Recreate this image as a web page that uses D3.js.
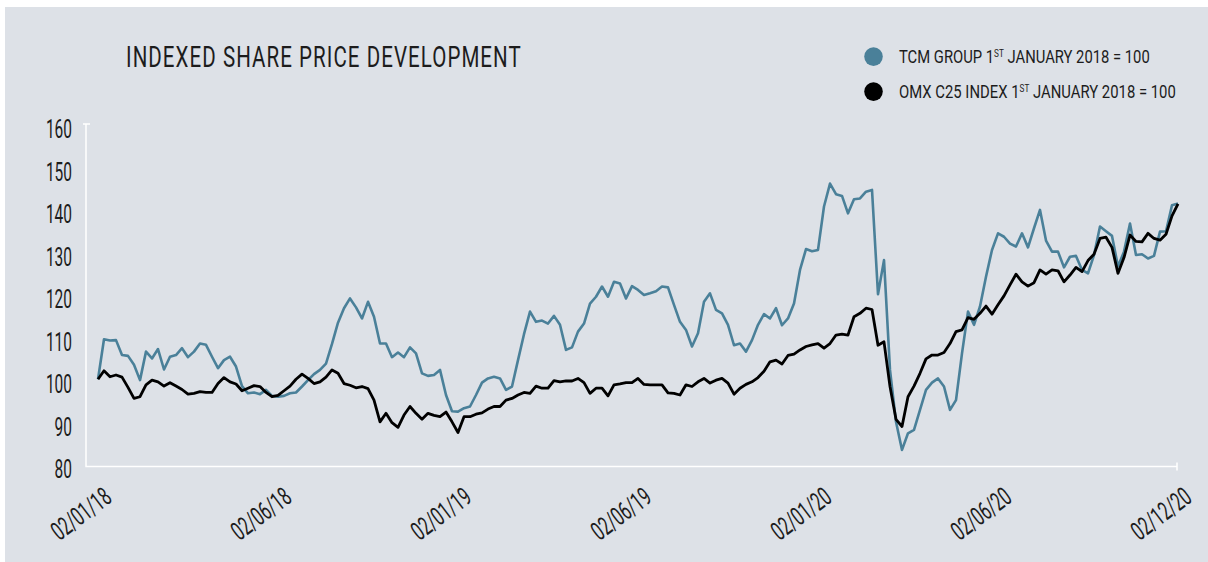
<!DOCTYPE html>
<html>
<head>
<meta charset="utf-8">
<script src="https://cdn.jsdelivr.net/npm/d3@7"></script>
<style>
body { margin: 0; background: #ffffff; }
svg { display: block; }
</style>
</head>
<body>
<div id="chart"><svg width="1208" height="562"></svg></div>
<script>

// chart data (roughly weekly closes)
var chartTitle = "INDEXED SHARE PRICE DEVELOPMENT";
var legendNames = ["TCM GROUP 1", "OMX C25 INDEX 1"];
var legendTail = " JANUARY 2018 = 100";
var yTicks = [80, 90, 100, 110, 120, 130, 140, 150, 160];
var xTickLabels = ["02/01/18", "02/06/18", "02/01/19", "02/06/19", "02/01/20", "02/06/20", "02/12/20"];

var tcmGroup = [
	100.0, 109.4, 109.1, 109.2, 105.7, 105.5, 103.4, 99.8, 106.5, 104.9,
	107.1, 102.3, 105.3, 105.7, 107.3, 105.2, 106.5, 108.4, 108.1, 105.3,
	102.6, 104.5, 105.3, 103.0, 98.4, 96.7, 96.9, 96.5, 97.5, 96.1,
	95.9, 96.1, 96.7, 96.9, 98.3, 99.8, 101.2, 102.2, 103.7, 108.3,
	113.3, 116.7, 119.0, 116.9, 114.3, 118.2, 114.7, 108.4, 108.4, 105.2,
	106.3, 105.2, 107.5, 106.1, 101.4, 100.8, 101.0, 102.2, 96.3, 92.5,
	92.4, 93.2, 93.6, 96.3, 99.2, 100.2, 100.6, 100.2, 97.5, 98.3,
	104.5, 110.6, 115.9, 113.5, 113.8, 113.1, 114.9, 112.8, 106.9, 107.5,
	111.2, 113.1, 117.8, 119.4, 121.8, 119.4, 122.9, 122.5, 119.0, 121.9,
	121.0, 119.8, 120.2, 120.7, 121.8, 121.6, 117.5, 113.5, 111.6, 107.7,
	110.8, 118.2, 120.2, 116.3, 115.5, 112.8, 108.0, 108.4, 106.5, 109.2,
	112.8, 115.3, 114.3, 116.7, 112.7, 114.3, 117.8, 125.7, 130.6, 130.1,
	130.4, 140.6, 146.0, 143.5, 143.1, 139.0, 142.3, 142.5, 144.1, 144.5,
	120.0, 128.0, 102.2, 90.0, 83.4, 87.3, 88.1, 92.8, 97.5, 99.2,
	100.2, 98.3, 92.8, 95.1, 106.1, 115.9, 112.8, 117.1, 124.1, 130.4,
	134.3, 133.5, 131.9, 131.2, 134.3, 131.0, 135.5, 139.8, 132.6, 130.0,
	130.0, 126.3, 128.8, 129.0, 125.7, 124.9, 129.2, 135.9, 134.8, 133.7,
	126.5, 130.0, 136.6, 129.2, 129.4, 128.4, 129.0, 134.7, 134.8, 140.9,
	141.3
];

var omxC25 = [
	100.0, 102.0, 100.6, 101.0, 100.5, 98.1, 95.5, 95.9, 98.7, 99.8,
	99.4, 98.4, 99.2, 98.4, 97.6, 96.5, 96.7, 97.1, 96.9, 96.9,
	99.0, 100.4, 99.4, 98.9, 97.3, 97.9, 98.5, 98.3, 96.9, 95.9,
	96.2, 97.3, 98.4, 100.0, 101.2, 100.2, 99.0, 99.4, 100.5, 102.2,
	101.4, 99.0, 98.6, 98.0, 98.3, 97.8, 95.1, 90.0, 92.0, 89.8,
	88.7, 91.6, 93.6, 92.0, 90.6, 92.0, 91.5, 91.2, 92.3, 90.0,
	87.5, 91.2, 91.2, 91.8, 92.1, 93.0, 93.6, 93.6, 95.1, 95.5,
	96.3, 96.9, 96.7, 98.4, 97.9, 97.9, 99.7, 99.4, 99.6, 99.6,
	100.2, 99.2, 96.7, 97.9, 97.9, 96.1, 98.7, 98.9, 99.2, 99.2,
	100.2, 98.8, 98.7, 98.7, 98.7, 96.8, 96.7, 96.3, 98.7, 98.3,
	99.4, 100.2, 99.1, 99.8, 100.2, 99.1, 96.5, 97.9, 98.8, 99.4,
	100.4, 101.9, 104.1, 104.5, 103.6, 105.6, 105.9, 106.9, 107.7, 108.1,
	108.4, 107.3, 108.4, 110.4, 110.6, 110.4, 114.7, 115.5, 116.7, 116.4,
	108.0, 108.8, 98.3, 90.6, 88.9, 95.9, 98.4, 101.4, 104.8, 105.7,
	105.7, 106.3, 108.4, 111.2, 111.6, 114.5, 114.1, 115.5, 117.2, 115.3,
	117.5, 119.6, 122.2, 124.7, 122.9, 121.9, 122.7, 125.7, 124.7, 125.7,
	125.5, 122.9, 124.5, 126.3, 125.3, 127.9, 129.4, 133.1, 133.4, 131.0,
	124.9, 128.6, 133.9, 132.4, 132.3, 134.3, 133.1, 132.7, 134.1, 138.4,
	141.2
];

var bgColor = "#dde1e7";
var tcmColor = "#4a8099";
var omxColor = "#000000";
var textColor = "#1c1c1c";
var fontName = "Roboto, 'DejaVu Sans', sans-serif";
var squeeze = 0.62;

var svg = d3.select("#chart").select("svg");

// grey panel
svg.append("rect")
	.attr("x", 5)
	.attr("y", 7)
	.attr("width", 1203)
	.attr("height", 555)
	.attr("fill", bgColor);

var x = d3.scaleLinear().domain([0, tcmGroup.length - 1]).range([98, 1178]);
var y = d3.scaleLinear().domain([79.5, 160]).range([466.5, 124]);
var axisLeftX = 86;
var axisBottomY = y.range()[0];
var axisRightX = x.range()[1] - 1;

// white axis lines with small end caps
svg.append("path")
	.attr("d", "M" + (axisLeftX - 3) + "," + y(160) + "H" + (axisLeftX + 4) +
		"M" + axisLeftX + "," + y(160) + "V" + axisBottomY + "H" + axisRightX +
		"M" + axisRightX + "," + (axisBottomY - 4) + "V" + (axisBottomY + 4))
	.attr("fill", "none")
	.attr("stroke", "#ffffff")
	.attr("stroke-width", 1.5);

// y axis labels
var gy = svg.append("g")
	.attr("transform", "translate(" + axisLeftX + ",0)")
	.call(d3.axisLeft(y).tickValues(yTicks).tickSize(0).tickFormat(d3.format("d")));
gy.select(".domain").remove();
gy.attr("font-family", fontName).attr("font-size", 25).attr("font-weight", 400);
gy.selectAll(".tick text")
	.attr("fill", textColor)
	.attr("text-anchor", "end")
	.attr("x", -14 / squeeze)
	.attr("dy", "0.54em")
	.attr("transform", "scale(" + squeeze + ",1)");

// x axis labels, rotated
var xTickIdx = xTickLabels.map(function(d, i) { return Math.round(i * (tcmGroup.length - 1) / (xTickLabels.length - 1)); });
var gx = svg.append("g")
	.attr("transform", "translate(0," + axisBottomY + ")")
	.call(d3.axisBottom(x).tickValues(xTickIdx).tickSize(0).tickFormat(function(d, i) { return xTickLabels[i]; }));
gx.select(".domain").remove();
gx.attr("font-family", fontName).attr("font-size", 26).attr("font-weight", 400);
gx.selectAll(".tick text")
	.attr("fill", textColor)
	.attr("text-anchor", "end")
	.attr("x", 0)
	.attr("y", 0)
	.attr("dy", 0)
	.attr("transform", "translate(15,34) rotate(-37) scale(" + squeeze + ",1)");

// lines
var line = d3.line()
	.x(function(d, i) { return x(i); })
	.y(function(d) { return y(d); });

svg.append("path")
	.datum(tcmGroup)
	.attr("d", line)
	.attr("fill", "none")
	.attr("stroke", tcmColor)
	.attr("stroke-width", 2.6)
	.attr("stroke-linejoin", "round");

svg.append("path")
	.datum(omxC25)
	.attr("d", line)
	.attr("fill", "none")
	.attr("stroke", omxColor)
	.attr("stroke-width", 2.8)
	.attr("stroke-linejoin", "round");

// fit a text element to a given width by squeezing it horizontally
function fitText(t, px, py, width) {
	var w = t.node().getComputedTextLength();
	t.attr("transform", "translate(" + px + "," + py + ") scale(" + (width / w) + ",1)");
}

// title
var title = svg.append("text")
	.attr("font-family", fontName)
	.attr("font-size", 29)
	.attr("letter-spacing", 1.5)
	.attr("fill", textColor)
	.text(chartTitle);
fitText(title, 126, 67.3, 396);

// legend
var legendColors = [tcmColor, omxColor];
var legendRowY = [56.6, 91.6];
var legendWidth = [251, 277];
legendNames.forEach(function(name, i) {
	svg.append("circle")
		.attr("cx", 873.5)
		.attr("cy", legendRowY[i])
		.attr("r", 9.3)
		.attr("fill", legendColors[i]);
	var t = svg.append("text")
		.attr("font-family", fontName)
		.attr("font-size", 19)
		.attr("fill", textColor);
	t.append("tspan").text(name);
	t.append("tspan").attr("font-size", 10.5).attr("dy", -6).text("ST");
	t.append("tspan").attr("dy", 6).text(legendTail);
	fitText(t, 899, legendRowY[i] + 6.8, legendWidth[i]);
});

</script>
</body>
</html>
